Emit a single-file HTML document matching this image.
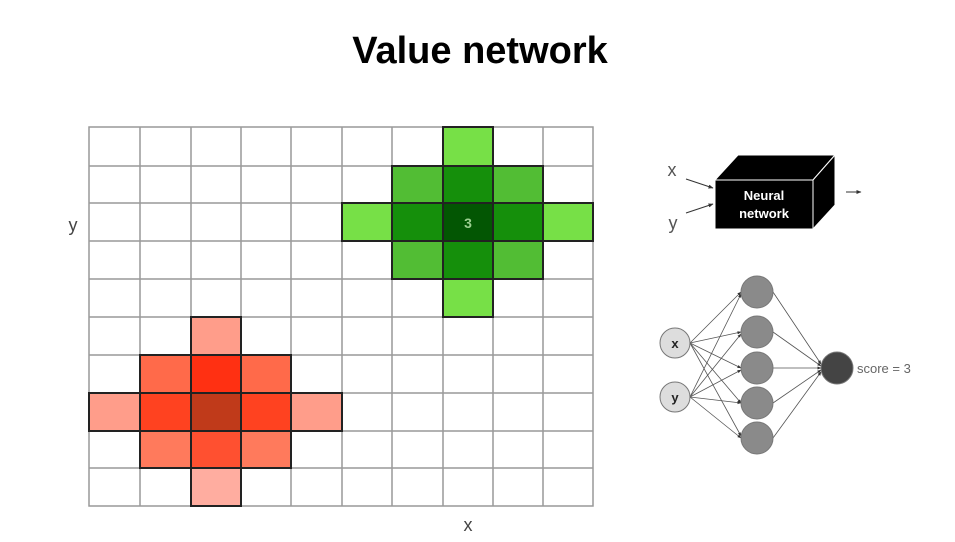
<!DOCTYPE html>
<html><head><style>body{margin:0;background:#fff;}svg{display:block;font-family:"Liberation Sans",sans-serif;}</style></head>
<body>
<svg width="955" height="542" viewBox="0 0 955 542">
<defs><marker id="a" viewBox="0 0 10 10" refX="9" refY="5" markerWidth="5" markerHeight="5" orient="auto"><path d="M0,1 L10,5 L0,9z" fill="#333"/></marker></defs>
<text x="480" y="63" text-anchor="middle" font-size="38" font-weight="bold" fill="#000">Value network</text>
<g stroke="#999" stroke-width="1.5" fill="none">
<rect x="89" y="127" width="504" height="379"/>
<path d="M140 127V506M191 127V506M241 127V506M291 127V506M342 127V506M392 127V506M443 127V506M493 127V506M543 127V506"/>
<path d="M89 166H593M89 203H593M89 241H593M89 279H593M89 317H593M89 355H593M89 393H593M89 431H593M89 468H593"/>
</g>
<g stroke="#2a2a2a" stroke-width="1.6">
<rect x="443" y="127" width="50" height="39" fill="#77e047"/>
<rect x="392" y="166" width="51" height="37" fill="#52bd34"/>
<rect x="443" y="166" width="50" height="37" fill="#158f0b"/>
<rect x="493" y="166" width="50" height="37" fill="#52bd34"/>
<rect x="342" y="203" width="50" height="38" fill="#77e047"/>
<rect x="392" y="203" width="51" height="38" fill="#158f0b"/>
<rect x="443" y="203" width="50" height="38" fill="#035603"/>
<rect x="493" y="203" width="50" height="38" fill="#158f0b"/>
<rect x="543" y="203" width="50" height="38" fill="#77e047"/>
<rect x="392" y="241" width="51" height="38" fill="#52bd34"/>
<rect x="443" y="241" width="50" height="38" fill="#158f0b"/>
<rect x="493" y="241" width="50" height="38" fill="#52bd34"/>
<rect x="443" y="279" width="50" height="38" fill="#77e047"/>
<rect x="191" y="317" width="50" height="38" fill="#ff9d8a"/>
<rect x="140" y="355" width="51" height="38" fill="#ff6a4a"/>
<rect x="191" y="355" width="50" height="38" fill="#ff3012"/>
<rect x="241" y="355" width="50" height="38" fill="#ff6a4a"/>
<rect x="89" y="393" width="51" height="38" fill="#ff9d8a"/>
<rect x="140" y="393" width="51" height="38" fill="#ff4220"/>
<rect x="191" y="393" width="50" height="38" fill="#c03a1a"/>
<rect x="241" y="393" width="50" height="38" fill="#ff4220"/>
<rect x="291" y="393" width="51" height="38" fill="#ff9d8a"/>
<rect x="140" y="431" width="51" height="37" fill="#ff7a5c"/>
<rect x="191" y="431" width="50" height="37" fill="#ff5030"/>
<rect x="241" y="431" width="50" height="37" fill="#ff7a5c"/>
<rect x="191" y="468" width="50" height="38" fill="#ffada0"/>
</g>
<g stroke="#222" stroke-width="2" fill="none">
<rect x="443" y="127" width="50" height="39"/><rect x="392" y="166" width="151" height="113"/><rect x="342" y="203" width="251" height="38"/><rect x="443" y="127" width="50" height="190"/>
<rect x="191" y="317" width="50" height="189"/><rect x="140" y="355" width="151" height="113"/><rect x="89" y="393" width="253" height="38"/>
</g>
<text x="468" y="228" text-anchor="middle" font-size="14" font-weight="bold" fill="#9ccf90">3</text>
<text x="73" y="231" text-anchor="middle" font-size="18" fill="#444">y</text>
<text x="468" y="531" text-anchor="middle" font-size="18" fill="#444">x</text>
<polygon points="715,180 738,155 835,155 813,180" fill="#000" stroke="#fff" stroke-width="1"/>
<polygon points="813,180 835,155 835,205 813,229" fill="#000" stroke="#fff" stroke-width="1"/>
<rect x="715" y="180" width="98" height="49" fill="#000" stroke="#fff" stroke-width="1"/>
<text x="764" y="200" text-anchor="middle" font-size="13" font-weight="bold" fill="#fff">Neural</text>
<text x="764" y="218" text-anchor="middle" font-size="13" font-weight="bold" fill="#fff">network</text>
<text x="672" y="176" text-anchor="middle" font-size="18" fill="#555">x</text>
<text x="673" y="229" text-anchor="middle" font-size="18" fill="#555">y</text>
<g stroke="#333" stroke-width="1" marker-end="url(#a)">
<line x1="686" y1="179" x2="713" y2="188"/><line x1="686" y1="213" x2="713" y2="204"/><line x1="846" y1="192" x2="861" y2="192"/>
</g>
<g stroke="#555" stroke-width="0.8" marker-end="url(#a)">
<line x1="690" y1="343" x2="741" y2="292"/><line x1="690" y1="343" x2="741" y2="332"/><line x1="690" y1="343" x2="741" y2="368"/><line x1="690" y1="343" x2="741" y2="403"/><line x1="690" y1="343" x2="741" y2="436"/>
<line x1="690" y1="397" x2="741" y2="294"/><line x1="690" y1="397" x2="741" y2="334"/><line x1="690" y1="397" x2="741" y2="370"/><line x1="690" y1="397" x2="741" y2="403"/><line x1="690" y1="397" x2="741" y2="438"/>
<line x1="773" y1="292" x2="821" y2="364"/><line x1="773" y1="332" x2="821" y2="366"/><line x1="773" y1="368" x2="821" y2="368"/><line x1="773" y1="403" x2="821" y2="370"/><line x1="773" y1="438" x2="821" y2="372"/>
</g>
<g stroke="#777" stroke-width="1">
<circle cx="675" cy="343" r="15" fill="#ddd"/><circle cx="675" cy="397" r="15" fill="#ddd"/>
<circle cx="757" cy="292" r="16" fill="#8a8a8a"/><circle cx="757" cy="332" r="16" fill="#8a8a8a"/><circle cx="757" cy="368" r="16" fill="#8a8a8a"/><circle cx="757" cy="403" r="16" fill="#8a8a8a"/><circle cx="757" cy="438" r="16" fill="#8a8a8a"/>
<circle cx="837" cy="368" r="16" fill="#444"/>
</g>
<text x="675" y="348" text-anchor="middle" font-size="13" font-weight="bold" fill="#222">x</text>
<text x="675" y="402" text-anchor="middle" font-size="13" font-weight="bold" fill="#222">y</text>
<text x="857" y="373" font-size="13" fill="#666">score = 3</text>
</svg>
</body></html>
